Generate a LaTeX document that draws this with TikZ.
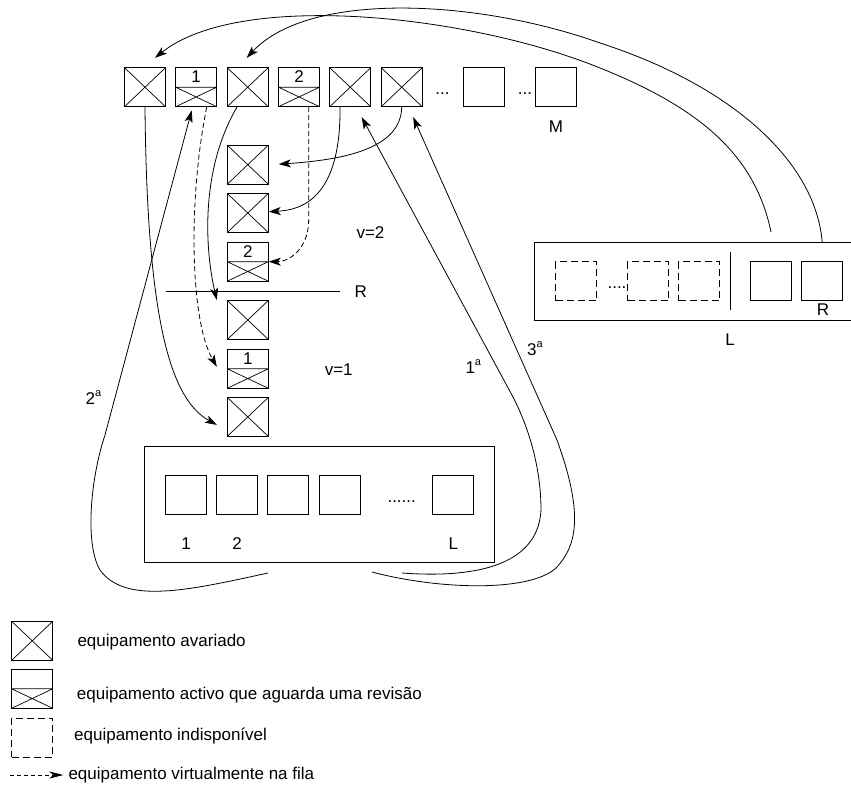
\documentclass[tikz,border=0pt]{standalone}
\usepackage{fontspec}
\setmainfont{Liberation Sans}
\usetikzlibrary{arrows.meta,calc}
\newcommand\ordlab[1]{#1\raisebox{8pt}{\fontsize{11pt}{11pt}\selectfont a}}
\begin{document}
\begin{tikzpicture}[x=1pt,y=-1pt,
  every node/.style={font=\fontsize{17pt}{20pt}\selectfont, inner sep=0pt},
  box/.style={draw, line width=0.9pt, minimum width=41pt, minimum height=39pt, inner sep=0pt},
  xbox/.style={box, path picture={\draw[line width=0.7pt] (path picture bounding box.south west) -- (path picture bounding box.north east) (path picture bounding box.north west) -- (path picture bounding box.south east);}},
  hbox/.style={box, path picture={\draw[line width=0.7pt] (path picture bounding box.west) -- (path picture bounding box.east) (path picture bounding box.west) -- (path picture bounding box.south east) (path picture bounding box.south west) -- (path picture bounding box.east);}},
  dbox/.style={box, dash pattern=on 7pt off 4pt},
  frame/.style={draw, line width=0.9pt, inner sep=0pt},
  conn/.style={line width=0.8pt, -{Stealth[length=12pt,width=8pt,inset=3pt]}},
  vconn/.style={conn, dash pattern=on 5pt off 3pt},
  lbl/.style={anchor=base},
  num/.style={label={[anchor=center,yshift=-9.75pt]north:#1}},
]
\useasboundingbox (0,0) rectangle (851,787);

% top queue
\node[xbox] (t1) at (145,87.2) {};
\node[hbox,num=1] (t2) at (196.2,87.2) {};
\node[xbox] (t3) at (247.7,87.2) {};
\node[hbox,num=2] (t4) at (299,87.2) {};
\node[xbox] (t5) at (350.2,87.2) {};
\node[xbox] (t6) at (401.7,87.2) {};
\node[lbl] (dt1) at (442.5,94.5) {...};
\node[box] (t7) at (483.7,87.2) {};
\node[lbl] (dt2) at (525,94.5) {...};
\node[box] (t8) at (555.5,87.2) {};
\node[lbl] (tm) at (556,132.4) {M};

% virtual column
\node[xbox] (c1) at (247.8,164.7) {};
\node[xbox] (c2) at (247.8,213) {};
\node[hbox,num=2] (c3) at (247.8,261.7) {};
\coordinate (ra) at (165.7,291);
\coordinate (rb) at (340,291);
\draw[line width=0.7pt] (ra) -- (rb);
\node[lbl] (rlab) at (360.7,297.8) {R};
\node[xbox] (c4) at (247.8,320) {};
\node[hbox,num=1] (c5) at (247.8,368.8) {};
\node[xbox] (c6) at (247.8,416.9) {};
\node[lbl] (v2) at (370.5,238.3) {v=2};
\node[lbl] (v1) at (338.7,375) {v=1};

% bottom box
\node[frame,minimum width=350pt,minimum height=116.7pt] (bot) at (319.3,504.3) {};
\node[box] (b1) at (186,494.5) {};
\node[box] (b2) at (237,494.5) {};
\node[box] (b3) at (288.3,494.5) {};
\node[box] (b4) at (339.5,494.5) {};
\node[lbl] (bdots) at (401.7,502) {......};
\node[box] (bL) at (452.8,494.5) {};
\node[lbl] (bl1) at (186,549.3) {1};
\node[lbl] (bl2) at (237,549.3) {2};
\node[lbl] (blL) at (453.3,549.3) {L};

% right box
\node[frame,minimum width=318.3pt,minimum height=77.7pt] (rbox) at (693.85,281.15) {};
\node[dbox] (d1) at (576,281.2) {};
\node[lbl] (ddots) at (617,288) {....};
\node[dbox] (d2) at (648,281.2) {};
\node[dbox] (d3) at (699.2,281.2) {};
\coordinate (va) at (730,252.3);
\coordinate (vb) at (730,310);
\draw[line width=0.8pt] (va) -- (vb);
\node[box] (s1) at (771,281.2) {};
\node[box] (s2) at (822.2,281.2) {};
\node[lbl] (rR) at (823,315.7) {R};
\node[lbl] (rL) at (730,345) {L};

% move labels
\node[lbl] (o1) at (473.3,373.3) {\ordlab{1}};
\node[lbl] (o3) at (535,355) {\ordlab{3}};
\node[lbl] (o2) at (93.5,404) {\ordlab{2}};

% connectors
\draw[conn] (t1.south) .. controls (147,327) and (172,400) .. ([xshift=-10pt,yshift=-8pt]c6.west);
\draw[conn] ([xshift=-10.7pt]t3.south) .. controls (200,170) and (205,250) .. ([xshift=-10pt]c4.north west);
\draw[vconn] ([xshift=10.5pt]t2.south) .. controls (188,200) and (190,320) .. ([xshift=-10pt,yshift=2pt]c5.west);
\draw[conn] ([xshift=-10.2pt]t5.south) .. controls (341,200) and (300,210) .. ([yshift=1.3pt]c2.east);
\draw[conn] (t6.south) .. controls (401,150) and (340,160) .. ([xshift=10pt,yshift=0.5pt]c1.east);
\draw[vconn] ([xshift=9.7pt]t4.south) -- (308.7,219.7) .. controls (308.7,250) and (288,261.7) .. (c3.east);

\coordinate (q2) at (268,573);
\draw[conn] (q2) .. controls (190,590) and (125,605) .. (100,570) .. controls (85,545) and (90,480) .. (105,435) -- ([xshift=-4.5pt,yshift=-3.3pt]t2.south);

\coordinate (q1) at (402,573);
\draw[conn] (q1) .. controls (470,578) and (538,568) .. (541,510) .. controls (541,470) and (530,430) .. (513,397) -- ([xshift=11.5pt,yshift=-10pt]t5.south);

\coordinate (q3) at (372,572);
\draw[conn] (q3) .. controls (440,590) and (530,592) .. (556,568) .. controls (578,545) and (583,512) .. (557,440) -- ([xshift=11.5pt,yshift=-10pt]t6.south);

\coordinate (qa) at (771,232);
\draw[conn] (qa) .. controls (755,155) and (700,108) .. (600,68) .. controls (470,15) and (240,-10) .. ([xshift=10pt,yshift=9.4pt]t1.north);
\draw[conn] (s2 |- rbox.north) .. controls (815,160) and (730,85) .. (600,43) .. controls (480,0) and (310,-10) .. ([xshift=-1pt,yshift=9.4pt]t3.north);

% legend
\node[xbox] (l1) at (32.2,640.8) {};
\node[hbox] (l2) at (32.2,688.8) {};
\node[dbox] (l3) at (32.2,737.5) {};
\node[anchor=base west] (lt1) at (77.3,646) {equipamento avariado};
\node[anchor=base west] (lt2) at (76.7,699.3) {equipamento activo que aguarda uma revisão};
\node[anchor=base west] (lt3) at (74,740.8) {equipamento indisponível};
\coordinate (la) at (10,775);
\coordinate (lb) at (63.3,775);
\draw[line width=0.8pt, dash pattern=on 4pt off 3pt, -{Stealth[length=14pt,width=7pt,inset=4pt]}] (la) -- (lb);
\node[anchor=base west] (lt4) at (68.3,779.3) {equipamento virtualmente na fila};
\end{tikzpicture}
\end{document}
